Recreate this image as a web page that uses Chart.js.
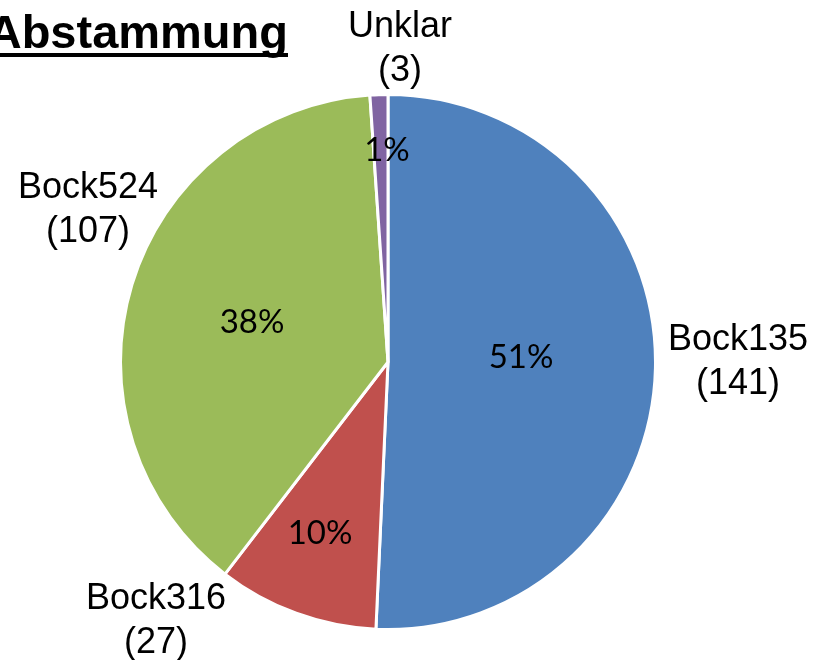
<!DOCTYPE html>
<html>
<head>
<meta charset="utf-8">
<script src="https://cdn.jsdelivr.net/npm/chart.js@4"></script>
<style>
  html, body { margin: 0; padding: 0; background: #fff; }
  #wrap { width: 816px; height: 660px; }
</style>
</head>
<body>
<div id="wrap"><canvas id="myChart" width="816" height="660"></canvas></div>
<script>
// Daten
var labels = ["Bock135", "Bock316", "Bock524", "Unklar"];
var counts = [141, 27, 107, 3];
var colors = ["#4F81BD", "#C0504D", "#9BBB59", "#8064A2"];

var total = counts.reduce(function (a, b) { return a + b; }, 0);

// Beschriftungen: Offset vom Mittelpunkt (aussen Name + Anzahl, innen Prozent)
var outerOffsets = [[350, 0], [-232, 259], [-300, -152], [12, -313]];
var innerOffsets = [[133, -5], [-68, 171], [-136, -40], [-1, -212]];

var labelPlugin = {
  id: "labelPlugin",
  afterDraw: function (chart) {
    var ctx = chart.ctx;
    var meta = chart.getDatasetMeta(0);
    ctx.save();
    ctx.fillStyle = "#000";
    ctx.textAlign = "center";
    ctx.textBaseline = "middle";
    meta.data.forEach(function (arc, i) {
      ctx.font = "33px Lato";
      ctx.fillText(Math.round(counts[i] / total * 100) + "%",
        arc.x + innerOffsets[i][0], arc.y + innerOffsets[i][1]);

      var ox = arc.x + outerOffsets[i][0];
      var oy = arc.y + outerOffsets[i][1];
      ctx.font = "36px 'Liberation Sans'";
      ctx.fillText(labels[i], ox, oy - 22);
      ctx.fillText("(" + counts[i] + ")", ox, oy + 22);
    });

    // Titel
    ctx.font = "bold 47px 'Liberation Sans'";
    ctx.textAlign = "right";
    ctx.textBaseline = "alphabetic";
    ctx.fillText("Abstammung", 288, 48);
    var w = ctx.measureText("Abstammung").width;
    ctx.fillRect(288 - w, 53, w, 4);
    ctx.restore();
  }
};

var ctx = document.getElementById("myChart").getContext("2d");
var myChart = new Chart(ctx, {
  type: "pie",
  data: {
    labels: labels,
    datasets: [
      {
        data: counts,
        backgroundColor: colors,
        borderColor: "#fff",
        borderWidth: 3,
      },
    ],
  },
  options: {
    responsive: false,
    animation: false,
    layout: {
      padding: { top: 93, bottom: 29, left: 119, right: 159 },
    },
    plugins: {
      legend: { display: false },
      tooltip: { enabled: false },
    },
  },
  plugins: [labelPlugin],
});
</script>
</body>
</html>
